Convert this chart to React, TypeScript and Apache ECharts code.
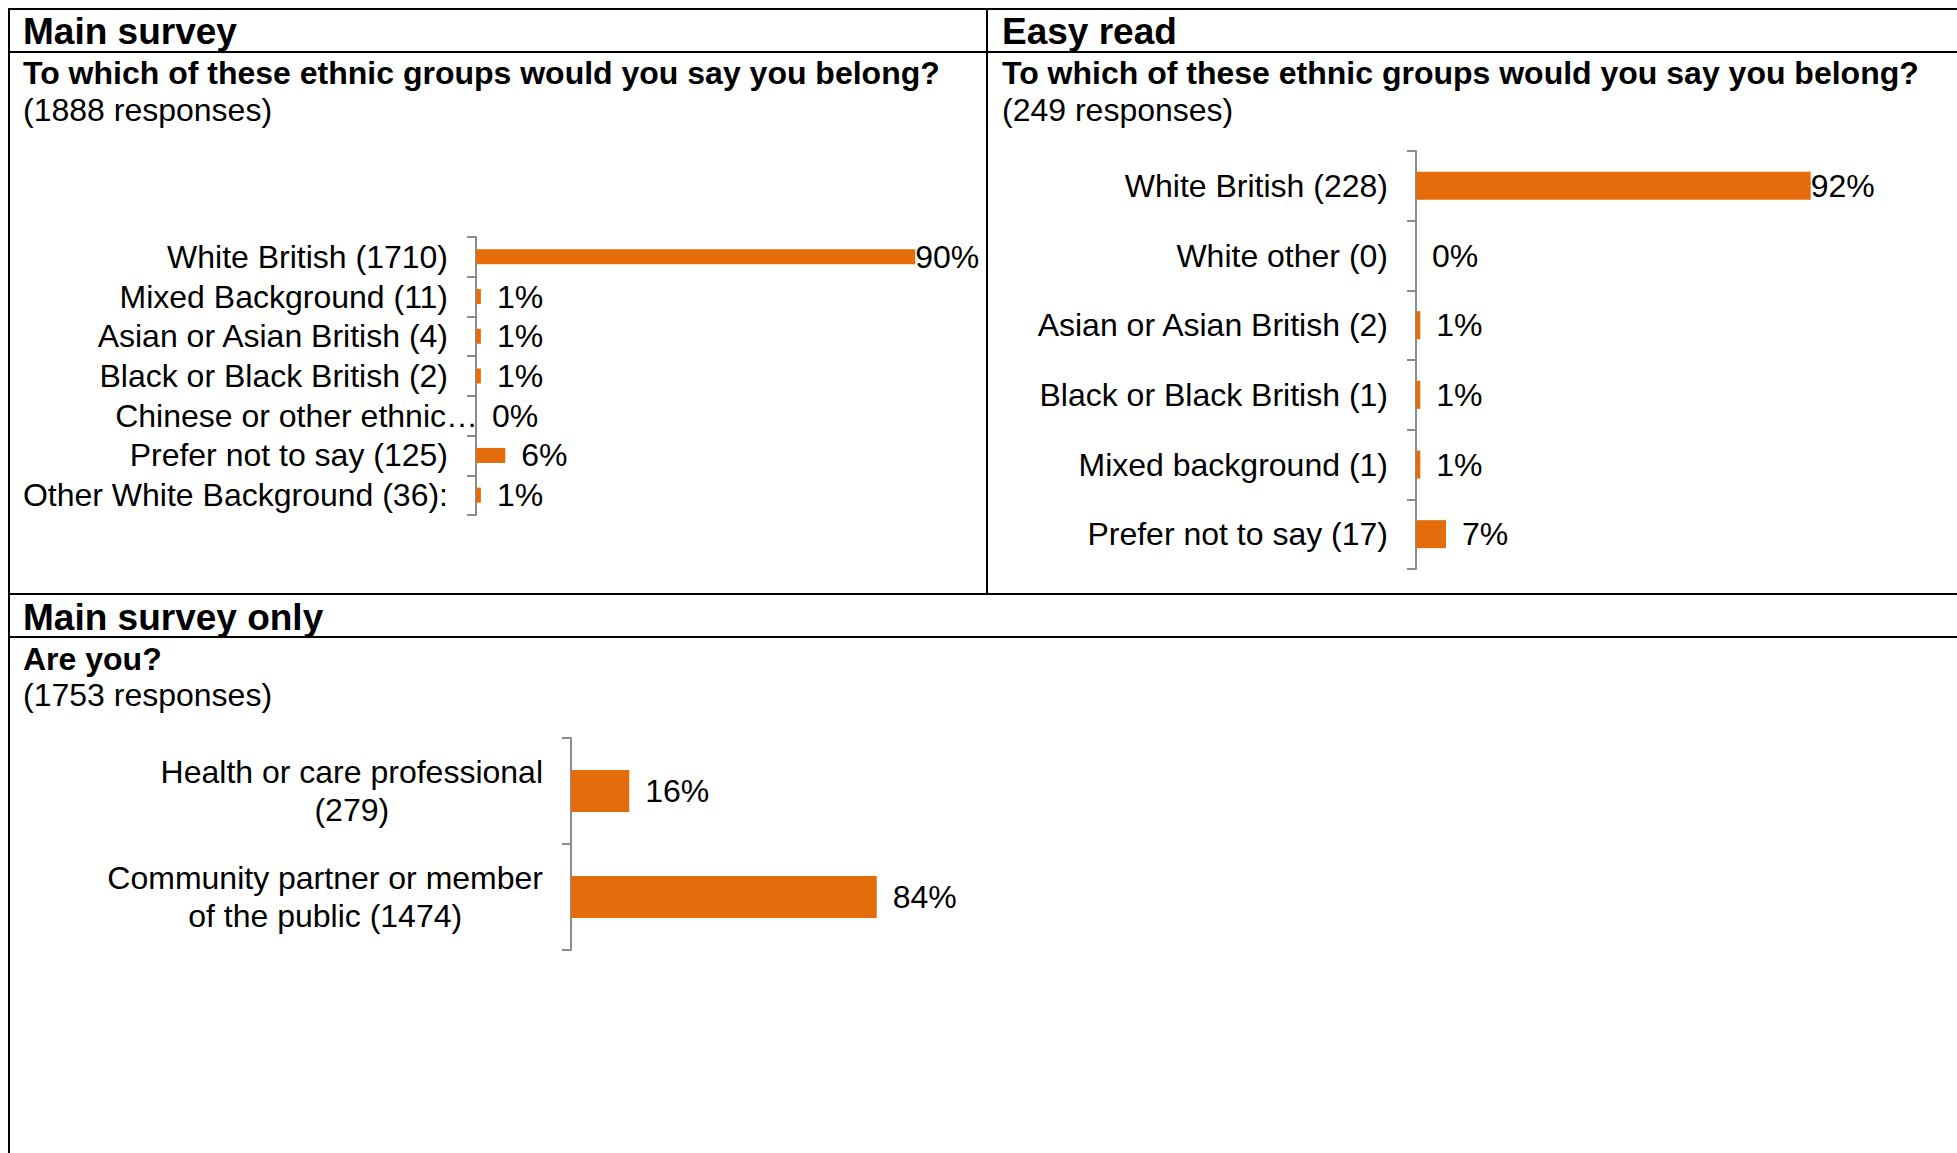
import React, { useEffect, useRef } from "react";
import * as echarts from "echarts";

// ---------- data ----------
const mainEthnicCategories = [
  "White British (1710)",
  "Mixed Background (11)",
  "Asian or Asian British (4)",
  "Black or Black British (2)",
  "Chinese or other ethnic…",
  "Prefer not to say (125)",
  "Other White Background (36):",
];
const mainEthnicPercent = [90, 1, 1, 1, 0, 6, 1];

const easyEthnicCategories = [
  "White British (228)",
  "White other (0)",
  "Asian or Asian British (2)",
  "Black or Black British (1)",
  "Mixed background (1)",
  "Prefer not to say (17)",
];
const easyEthnicPercent = [92, 0, 1, 1, 1, 7];

const roleCategories = [
  "Health or care professional\n(279)",
  "Community partner or member\nof the public (1474)",
];
const rolePercent = [16, 84];

const sectionTitles = ["Main survey", "Easy read", "Main survey only"];
const questionTitles = [
  "To which of these ethnic groups would you say you belong?",
  "To which of these ethnic groups would you say you belong?",
  "Are you?",
];
const responseTitles = ["(1888 responses)", "(249 responses)", "(1753 responses)"];

// ---------- styling ----------
const FONT = '"Liberation Sans", Arial, Helvetica, sans-serif';
const BAR = "#E46C0A";
const AXIS = "#8C8C8C";

function yAxisCfg(gridIndex: number, data: any[], extraLabel: any = {}) {
  return {
    type: "category",
    gridIndex,
    inverse: true,
    data,
    axisLine: { show: true, lineStyle: { color: AXIS, width: 2 } },
    axisTick: { show: true, length: 9, interval: 0, lineStyle: { color: AXIS, width: 2 } },
    splitLine: { show: false },
    axisLabel: {
      interval: 0,
      margin: 28,
      fontSize: 32,
      color: "#000",
      fontFamily: FONT,
      ...extraLabel,
    },
  };
}

function xAxisCfg(gridIndex: number) {
  return { type: "value", gridIndex, min: 0, max: 100, show: false, splitLine: { show: false } };
}

function barSeries(idx: number, values: number[], barWidth: number) {
  const max = Math.max(...values);
  return {
    type: "bar",
    xAxisIndex: idx,
    yAxisIndex: idx,
    barWidth,
    itemStyle: { color: BAR },
    data: values.map((v) => (v === max && max > 85 ? { value: v, label: { distance: 0 } } : v)),
    label: {
      show: true,
      position: "right",
      distance: 16,
      formatter: "{c}%",
      fontSize: 32,
      color: "#000",
      fontFamily: FONT,
    },
  };
}

function hLine(x1: number, y1: number, x2: number, y2: number, w = 2) {
  return {
    type: "line",
    shape: { x1, y1, x2, y2 },
    style: { stroke: "#000", lineWidth: w },
    silent: true,
  };
}

function txt(text: string, x: number, y: number, size: number, bold: boolean) {
  return {
    type: "text",
    x,
    y,
    silent: true,
    style: {
      text,
      fill: "#000",
      font: `${bold ? "bold " : ""}${size}px ${FONT}`,
      align: "left",
      verticalAlign: "middle",
    },
  };
}

export default function App() {
  const ref = useRef<HTMLDivElement>(null);

  useEffect(() => {
    if (!ref.current) return;
    const chart = echarts.init(ref.current, undefined, { renderer: "svg" });

    const mainCats = mainEthnicCategories.map((c) =>
      c.endsWith("…") ? { value: c, textStyle: { padding: [0, -30, 0, 0] } } : c
    );

    const option: any = {
      animation: false,
      backgroundColor: "#fff",
      grid: [
        { left: 476, top: 237, width: 488, height: 278 },
        { left: 1416, top: 151, width: 429, height: 418 },
        { left: 571, top: 738, width: 364, height: 212 },
      ],
      xAxis: [xAxisCfg(0), xAxisCfg(1), xAxisCfg(2)],
      yAxis: [
        yAxisCfg(0, mainCats),
        yAxisCfg(1, easyEthnicCategories),
        yAxisCfg(2, roleCategories, {
          formatter: (v: string) =>
            v
              .split("\n")
              .map((l) => `{c|${l}}`)
              .join("\n"),
          rich: {
            c: { align: "center", fontSize: 32, lineHeight: 38, color: "#000", fontFamily: FONT },
          },
        }),
      ],
      series: [
        barSeries(0, mainEthnicPercent, 15),
        barSeries(1, easyEthnicPercent, 28),
        barSeries(2, rolePercent, 42),
      ],
      graphic: [
        hLine(9, 9, 1957, 9),
        hLine(9, 52, 1957, 52),
        hLine(9, 594, 1957, 594),
        hLine(9, 637, 1957, 637),
        hLine(9, 8, 9, 1153),
        hLine(987, 9, 987, 594),
        txt(sectionTitles[0], 23, 31.5, 37, true),
        txt(sectionTitles[1], 1002, 31.5, 37, true),
        txt(questionTitles[0], 23, 72.5, 32, true),
        txt(questionTitles[1], 1002, 72.5, 32, true),
        txt(responseTitles[0], 23, 109.5, 32, false),
        txt(responseTitles[1], 1002, 109.5, 32, false),
        txt(sectionTitles[2], 23, 617, 37, true),
        txt(questionTitles[2], 23, 658.5, 32, true),
        txt(responseTitles[2], 23, 694.5, 32, false),
      ],
    };

    chart.setOption(option);
    return () => chart.dispose();
  }, []);

  return (
    <div
      ref={ref}
      style={{ position: "absolute", left: 0, top: 0, width: 1957, height: 1153, background: "#fff" }}
    />
  );
}
